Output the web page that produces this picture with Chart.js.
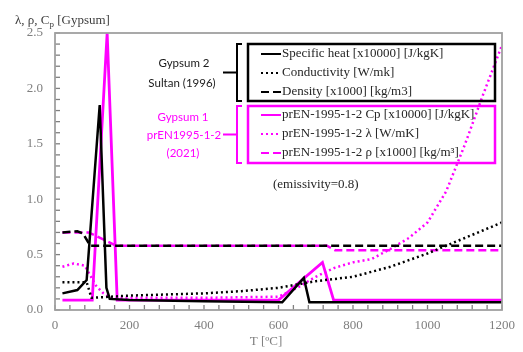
<!DOCTYPE html>
<html>
<head>
<meta charset="utf-8">
<script src="https://cdn.jsdelivr.net/npm/chart.js@4.4.0/dist/chart.umd.min.js"></script>
<style>
html, body { margin: 0; padding: 0; background: #fff; }
</style>
</head>
<body>
<canvas id="chart" width="523" height="352"></canvas>
<script>
'use strict';

// Sultan (1996) - gypsum 2
var sultanCpT  = [20, 60, 85, 120, 138, 147, 200, 400, 610, 668, 683, 1200];
var sultanCp   = [0.15, 0.18, 0.27, 1.85, 0.2, 0.1, 0.09, 0.08, 0.07, 0.29, 0.07, 0.07];
var sultanKT   = [20, 85, 98, 200, 300, 400, 500, 600, 700, 800, 900, 950, 1000, 1050, 1100, 1150, 1200];
var sultanK    = [0.25, 0.25, 0.11, 0.13, 0.14, 0.15, 0.17, 0.2, 0.26, 0.3, 0.39, 0.45, 0.51, 0.58, 0.65, 0.72, 0.79];
var sultanRhoT = [20, 60, 75, 95, 1200];
var sultanRho  = [0.7, 0.71, 0.69, 0.58, 0.58];

// prEN 1995-1-2 (2021) - gypsum 1
var enCpT  = [20, 100, 140, 167, 600, 718, 748, 1200];
var enCp   = [0.09, 0.09, 2.5, 0.09, 0.09, 0.43, 0.09, 0.09];
var enKT   = [20, 50, 80, 95, 110, 130, 150, 400, 600, 650, 700, 750, 800, 850, 900, 950, 1000, 1050, 1100, 1150, 1200];
var enK    = [0.39, 0.42, 0.4, 0.31, 0.22, 0.15, 0.11, 0.11, 0.12, 0.2, 0.3, 0.38, 0.43, 0.46, 0.55, 0.65, 0.79, 1.07, 1.49, 1.95, 2.39];
var enRhoT = [20, 90, 165, 730, 752, 1200];
var enRho  = [0.7, 0.7, 0.58, 0.58, 0.54, 0.54];

var legendSultan = ['Specific heat [x10000] [J/kgK]', 'Conductivity [W/mk]', 'Density [x1000] [kg/m3]'];
var legendEN     = ['prEN-1995-1-2 Cp [x10000] [J/kgK]', 'prEN-1995-1-2 \u03bb [W/mK]', 'prEN-1995-1-2 \u03c1 [x1000] [kg/m\u00b3]'];

var X_STEP = 40;
var Y_STEP = 0.1;

var BLACK   = '#000000';
var MAGENTA = '#ff00ff';
var AXIS    = '#a0a0a0';
var SERIF   = '"Liberation Serif", "DejaVu Serif", serif';
var DOT     = [2, 3];
var DASH    = [8, 4];

function pts(xs, ys) {
	return xs.map(function(x, i) { return {x: x, y: ys[i]}; });
}

function line(label, xs, ys, color, dash, width) {
	return {
		label: label,
		data: pts(xs, ys),
		borderColor: color,
		borderWidth: width || 2.5,
		borderDash: dash || [],
		pointRadius: 0,
		tension: 0,
		fill: false
	};
}

// frame round the plot area and the small inner tick marks
function drawFrame(chart) {
	var ctx = chart.ctx, a = chart.chartArea;
	var xs = chart.scales.x, ys = chart.scales.y;
	var i, p;
	ctx.save();
	ctx.setLineDash([]);
	ctx.strokeStyle = '#808080';
	ctx.lineWidth = 1.3;
	for (i = 0; i <= Math.round((xs.max - xs.min) / X_STEP); i++) {
		p = xs.getPixelForValue(xs.min + i * X_STEP);
		ctx.beginPath();
		ctx.moveTo(p, a.bottom);
		ctx.lineTo(p, a.bottom - 5);
		ctx.stroke();
	}
	for (i = 0; i <= Math.round((ys.max - ys.min) / Y_STEP); i++) {
		p = ys.getPixelForValue(ys.min + i * Y_STEP);
		ctx.beginPath();
		ctx.moveTo(a.left, p);
		ctx.lineTo(a.left + 5, p);
		ctx.stroke();
	}
	ctx.strokeStyle = AXIS;
	ctx.lineWidth = 1.8;
	ctx.strokeRect(a.left, a.top, a.right - a.left, a.bottom - a.top);
	ctx.restore();
}

function bracket(ctx, color, top, bottom) {
	var mid = (top + bottom) / 2;
	ctx.strokeStyle = color;
	ctx.lineWidth = 2;
	ctx.beginPath();
	ctx.moveTo(242, top);
	ctx.lineTo(237, top);
	ctx.lineTo(237, bottom);
	ctx.lineTo(242, bottom);
	ctx.moveTo(237, mid);
	ctx.lineTo(223, mid);
	ctx.stroke();
}

function legendBlock(ctx, color, top, bottom, labels, rows) {
	ctx.strokeStyle = color;
	ctx.lineWidth = 2.5;
	ctx.strokeRect(248, top, 247, bottom - top);
	var dashes = [[], DOT, DASH];
	labels.forEach(function(txt, i) {
		ctx.setLineDash(dashes[i]);
		ctx.lineWidth = 2;
		ctx.strokeStyle = color;
		ctx.beginPath();
		ctx.moveTo(261, rows[i]);
		ctx.lineTo(281, rows[i]);
		ctx.stroke();
		ctx.setLineDash([]);
		ctx.fillStyle = '#262626';
		ctx.fillText(txt, 282, rows[i]);
	});
}

var notes = {
	id: 'notes',
	afterDraw: function(chart) {
		drawFrame(chart);

		var ctx = chart.ctx;
		ctx.save();

		// y axis title with subscript
		ctx.fillStyle = '#404040';
		ctx.textBaseline = 'alphabetic';
		ctx.textAlign = 'left';
		ctx.font = '13px ' + SERIF;
		var s1 = '\u03bb, \u03c1, C';
		ctx.fillText(s1, 15, 24);
		var w = ctx.measureText(s1).width;
		ctx.font = '9px ' + SERIF;
		ctx.fillText('p', 15 + w, 27);
		var w2 = ctx.measureText('p').width;
		ctx.font = '13px ' + SERIF;
		ctx.fillText(' [Gypsum]', 15 + w + w2, 24);

		// x axis title
		ctx.textAlign = 'center';
		ctx.fillStyle = '#7f7f7f';
		ctx.fillText('T [\u00baC]', 266, 345);

		// group labels
		ctx.font = '11.5px Lato, "Open Sans", sans-serif';
		ctx.fillStyle = '#1a1a1a';
		ctx.fillText('Gypsum 2', 184, 67);
		ctx.fillText('Sultan (1996)', 182, 87);
		ctx.fillStyle = MAGENTA;
		ctx.fillText('Gypsum 1', 183, 121);
		ctx.fillText('prEN1995-1-2', 184, 139);
		ctx.fillText('(2021)', 183, 157);

		bracket(ctx, BLACK, 44, 101);
		bracket(ctx, MAGENTA, 106, 163);

		ctx.textAlign = 'left';
		ctx.textBaseline = 'middle';
		ctx.font = '13px ' + SERIF;
		legendBlock(ctx, BLACK, 44, 101, legendSultan, [54, 73, 92]);
		legendBlock(ctx, MAGENTA, 106, 163, legendEN, [115, 134, 153]);

		ctx.fillStyle = '#262626';
		ctx.fillText('(emissivity=0.8)', 273, 185);
		ctx.restore();
	}
};

var chart = new Chart(document.getElementById('chart'), {
	type: 'line',
	data: {
		datasets: [
			line(legendSultan[0], sultanCpT, sultanCp, BLACK),
			line(legendSultan[1], sultanKT, sultanK, BLACK, DOT),
			line(legendSultan[2], sultanRhoT, sultanRho, BLACK, DASH),
			line(legendEN[0], enCpT, enCp, MAGENTA, null, 2.8),
			line(legendEN[1], enKT, enK, MAGENTA, DOT),
			line(legendEN[2], enRhoT, enRho, MAGENTA, DASH)
		]
	},
	options: {
		responsive: false,
		animation: false,
		layout: {padding: {left: 0, right: 18, top: 33, bottom: 0}},
		plugins: {
			legend: {display: false},
			tooltip: {enabled: false}
		},
		scales: {
			x: {
				type: 'linear',
				min: 0,
				max: 1200,
				afterFit: function(s) { s.height = 42; },
				grid: {display: false, drawTicks: false},
				border: {display: false},
				ticks: {
					stepSize: X_STEP,
					autoSkip: false,
					maxRotation: 0,
					padding: 8,
					color: '#7f7f7f',
					font: {family: SERIF, size: 13},
					callback: function(v) { return v % 200 === 0 ? String(v) : ''; }
				}
			},
			y: {
				min: 0,
				max: 2.5,
				afterFit: function(s) { s.width = 55; },
				grid: {display: false, drawTicks: false},
				border: {display: false},
				ticks: {
					stepSize: Y_STEP,
					autoSkip: false,
					padding: 12,
					color: '#7f7f7f',
					font: {family: SERIF, size: 13},
					callback: function(v) {
						var r = Math.round(v * 10);
						return r % 5 === 0 ? (r / 10).toFixed(1) : '';
					}
				}
			}
		}
	},
	plugins: [notes]
});
</script>
</body>
</html>
